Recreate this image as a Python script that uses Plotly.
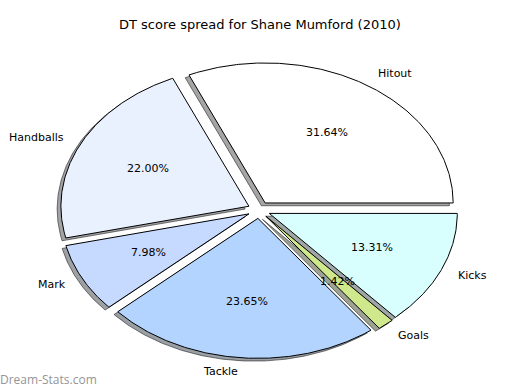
import numpy as np
import plotly.graph_objects as go

labels = ["Hitout", "Handballs", "Mark", "Tackle", "Goals", "Kicks"]
values = [31.64, 22.00, 7.98, 23.65, 1.42, 13.31]
colors = ["#ffffff", "#e9f0fe", "#c6d9fe", "#b3d4fe", "#cfe88c", "#d9fefe"]
explode = [0.06, 0.06, 0.06, 0.06, 0.06, 0.06]
title = "DT score spread for Shane Mumford (2010)"
watermark = "Dream-Stats.com"

# layout of the (matplotlib-style, non-equal aspect) pie in pixel space
W, H = 520, 390
CX, CY, RX, RY = 259, 210, 188, 140
SH = (-0.02, -0.02)

fig = go.Figure()
total = sum(values)
fr = np.cumsum([0] + values) / total * 360.0


def wedge(vx, vy, t1, t2):
    t = np.radians(np.linspace(t1, t2, max(int(abs(t2 - t1)) * 2, 6)))
    xs = np.concatenate([[vx], vx + np.cos(t), [vx]])
    ys = np.concatenate([[vy], vy + np.sin(t), [vy]])
    return xs, ys


geo = []
for i, v in enumerate(values):
    t1, t2 = fr[i], fr[i + 1]
    m = np.radians((t1 + t2) / 2)
    vx, vy = explode[i] * np.cos(m), explode[i] * np.sin(m)
    geo.append((t1, t2, m, vx, vy))

# shadows
for i, (t1, t2, m, vx, vy) in enumerate(geo):
    xs, ys = wedge(vx + SH[0], vy + SH[1], t1, t2)
    c = colors[i].lstrip("#")
    r, g, b = (int(c[k:k + 2], 16) * 0.3 for k in (0, 2, 4))
    fig.add_trace(go.Scatter(x=xs, y=ys, mode="lines", fill="toself",
                             fillcolor=f"rgba({r:.0f},{g:.0f},{b:.0f},0.5)",
                             line=dict(color="rgba(0,0,0,0.5)", width=1),
                             hoverinfo="skip", showlegend=False))

# wedges
for i, (t1, t2, m, vx, vy) in enumerate(geo):
    xs, ys = wedge(vx, vy, t1, t2)
    fig.add_trace(go.Scatter(x=xs, y=ys, mode="lines", fill="toself",
                             fillcolor=colors[i],
                             line=dict(color="black", width=1),
                             name=labels[i], hoverinfo="name", showlegend=False))

ann = []
for i, (t1, t2, m, vx, vy) in enumerate(geo):
    lx, ly = vx + 1.1 * np.cos(m), vy + 1.1 * np.sin(m)
    ann.append(dict(x=lx, y=ly, xref="x", yref="y", text=labels[i], showarrow=False,
                    xanchor="left" if lx > 0 else "right", yanchor="middle",
                    borderpad=0, borderwidth=0,
                    font=dict(size=11, color="black")))
    px, py = vx + 0.6 * np.cos(m), vy + 0.6 * np.sin(m)
    ann.append(dict(x=px, y=py, xref="x", yref="y", text=f"{values[i]:.2f}%",
                    showarrow=False, xanchor="center", yanchor="middle",
                    borderpad=0, borderwidth=0,
                    font=dict(size=11, color="black")))

ann.append(dict(x=0.5, y=1 - 25 / H, xref="paper", yref="paper", text=title,
                showarrow=False, xanchor="center", yanchor="middle",
                font=dict(size=13, color="black")))
ann.append(dict(x=0, y=1 - 379 / H, xref="paper", yref="paper", text=watermark,
                showarrow=False, xanchor="left", yanchor="middle", xshift=-2,
                font=dict(size=12, color="#959595", family="Open Sans")))

fig.update_layout(
    width=W, height=H, margin=dict(l=0, r=0, t=0, b=0),
    paper_bgcolor="white", plot_bgcolor="white",
    font=dict(family="DejaVu Sans"),
    xaxis=dict(range=[(0 - CX) / RX, (W - CX) / RX], visible=False, fixedrange=True),
    yaxis=dict(range=[-(H - CY) / RY, CY / RY], visible=False, fixedrange=True),
    annotations=ann,
)

fig.write_html("out.html", config={"displayModeBar": False},
               post_script="document.body.style.margin='0';document.body.style.overflow='hidden';")
